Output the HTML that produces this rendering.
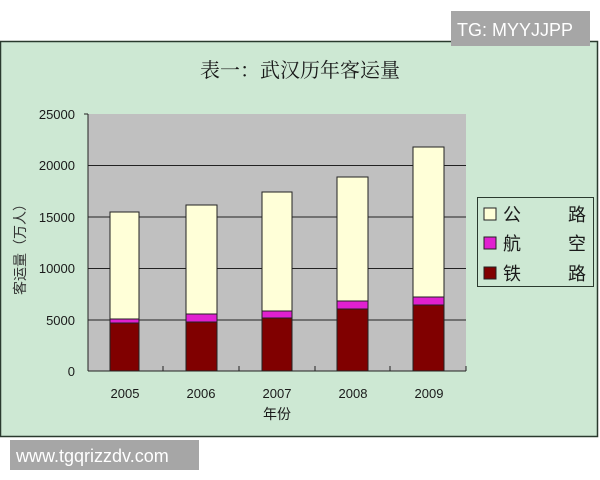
<!DOCTYPE html>
<html><head><meta charset="utf-8"><style>
body{margin:0;background:#fff;width:600px;height:480px;overflow:hidden}
svg{display:block}
</style></head><body>
<svg width="600" height="480" xmlns="http://www.w3.org/2000/svg" font-family="Liberation Sans, Noto Sans CJK SC, sans-serif">
<rect x="0" y="0" width="600" height="480" fill="#fff"/>
<rect x="0.5" y="41.5" width="597" height="395" fill="#cde8d3" stroke="#2a3a2e" stroke-width="1.5"/>
<text x="300" y="77" text-anchor="middle" font-family="Liberation Serif, Noto Serif CJK SC, serif" font-size="20" fill="#1a1a1a">表一：武汉历年客运量</text>
<rect x="88" y="114" width="378" height="257" fill="#c0c0c0"/>
<g stroke="#222" stroke-width="1">
<line x1="88" y1="165.5" x2="466" y2="165.5"/>
<line x1="88" y1="217" x2="466" y2="217"/>
<line x1="88" y1="268.5" x2="466" y2="268.5"/>
<line x1="88" y1="320" x2="466" y2="320"/>
<line x1="88" y1="114" x2="88" y2="371"/>
<line x1="88" y1="371" x2="466" y2="371"/>
<line x1="84" y1="114" x2="88" y2="114"/>
<line x1="163" y1="371" x2="163" y2="366"/>
<line x1="239" y1="371" x2="239" y2="366"/>
<line x1="315" y1="371" x2="315" y2="366"/>
<line x1="390" y1="371" x2="390" y2="366"/>
<line x1="466" y1="371" x2="466" y2="366"/>
</g>
<g stroke="#222" stroke-width="1">
<rect x="110" y="212" width="29" height="107" fill="#ffffd8"/>
<rect x="110" y="319" width="29" height="4" fill="#e020d0"/>
<rect x="110" y="323" width="29" height="48" fill="#800000"/>
<rect x="186" y="205" width="31" height="109" fill="#ffffd8"/>
<rect x="186" y="314" width="31" height="8" fill="#e020d0"/>
<rect x="186" y="322" width="31" height="49" fill="#800000"/>
<rect x="262" y="192" width="30" height="119" fill="#ffffd8"/>
<rect x="262" y="311" width="30" height="7" fill="#e020d0"/>
<rect x="262" y="318" width="30" height="53" fill="#800000"/>
<rect x="337" y="177" width="31" height="124" fill="#ffffd8"/>
<rect x="337" y="301" width="31" height="8" fill="#e020d0"/>
<rect x="337" y="309" width="31" height="62" fill="#800000"/>
<rect x="413" y="147" width="31" height="150" fill="#ffffd8"/>
<rect x="413" y="297" width="31" height="8" fill="#e020d0"/>
<rect x="413" y="305" width="31" height="66" fill="#800000"/>
</g>
<g font-size="13" fill="#1a1a1a" text-anchor="end">
<text x="75" y="119">25000</text>
<text x="75" y="170">20000</text>
<text x="75" y="222">15000</text>
<text x="75" y="273">10000</text>
<text x="75" y="325">5000</text>
<text x="75" y="376">0</text>
</g>
<g font-size="13" fill="#1a1a1a" text-anchor="middle">
<text x="125" y="398">2005</text>
<text x="201" y="398">2006</text>
<text x="277" y="398">2007</text>
<text x="353" y="398">2008</text>
<text x="429" y="398">2009</text>
<text x="277" y="419" font-size="14">年份</text>
</g>
<text transform="translate(25,246) rotate(-90)" text-anchor="middle" font-size="14" fill="#333">客运量（万人）</text>
<rect x="477.5" y="197.5" width="116" height="89" fill="none" stroke="#2a3a2e" stroke-width="1"/>
<g stroke="#222" stroke-width="1">
<rect x="484" y="208" width="12" height="12" fill="#ffffd8"/>
<rect x="484" y="237" width="12" height="12" fill="#e020d0"/>
<rect x="484" y="267" width="12" height="12" fill="#800000"/>
</g>
<g font-size="18" fill="#1a1a1a">
<text x="503" y="221">公</text><text x="568" y="221">路</text>
<text x="503" y="250">航</text><text x="568" y="250">空</text>
<text x="503" y="280">铁</text><text x="568" y="280">路</text>
</g>
<rect x="451" y="11" width="139" height="35" fill="#a6a6a6"/>
<text x="457" y="36" font-size="18" fill="#fff">TG: MYYJJPP</text>
<rect x="10" y="440" width="189" height="30" fill="#a6a6a6"/>
<text x="16" y="462" font-size="18" fill="#fff">www.tgqrizzdv.com</text>
</svg>
</body></html>
